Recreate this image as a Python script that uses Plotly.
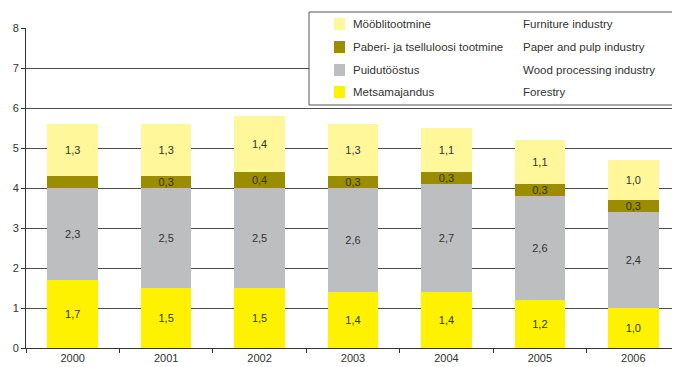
import plotly.graph_objects as go

years = ["2000", "2001", "2002", "2003", "2004", "2005", "2006"]

metsamajandus = [1.7, 1.5, 1.5, 1.4, 1.4, 1.2, 1.0]
puidutoostus = [2.3, 2.5, 2.5, 2.6, 2.7, 2.6, 2.4]
paber = [0.3, 0.3, 0.4, 0.3, 0.3, 0.3, 0.3]
moobel = [1.3, 1.3, 1.4, 1.3, 1.1, 1.1, 1.0]

names_et = ["Mööblitootmine", "Paberi- ja tselluloosi tootmine", "Puidutööstus", "Metsamajandus"]
names_en = ["Furniture industry", "Paper and pulp industry", "Wood processing industry", "Forestry"]
colors = ["#FFF799", "#9B8D00", "#BDBEC0", "#FFF200"]


def lbl(vals, skip=()):
    return ["" if i in skip else f"{v:.1f}".replace(".", ",") for i, v in enumerate(vals)]


series = [
    (metsamajandus, "#FFF200", lbl(metsamajandus)),
    (puidutoostus, "#BDBEC0", lbl(puidutoostus)),
    (paber, "#9B8D00", lbl(paber, skip=(0,))),
    (moobel, "#FFF799", lbl(moobel)),
]

fig = go.Figure()
for vals, col, txt in series:
    fig.add_trace(go.Bar(
        x=years, y=vals, marker=dict(color=col, line=dict(width=0)),
        text=txt, textposition="inside", insidetextanchor="middle",
        textfont=dict(color="#333333", size=11), showlegend=False,
    ))

# page has an 8px body margin, so work in page pixels and shift
OFF = 8
W, H = 680, 367
L, R, T, B = 26 - OFF, OFF, 28 - OFF, H - (348 - OFF)
pw, ph = W - L - R, H - T - B


def px(x):
    return (x - OFF - L) / pw


def py(y):
    return (H - B - (y - OFF)) / ph


# legend box drawn by hand: two columns, Estonian and English
shapes = [dict(type="rect", xref="paper", yref="paper",
               x0=px(309), x1=px(679), y0=py(105), y1=py(12),
               line=dict(color="#555555", width=1), fillcolor="white", layer="above")]
annotations = []
rows = [24, 47, 70, 92]
for i, yy in enumerate(rows):
    shapes.append(dict(type="rect", xref="paper", yref="paper",
                       x0=px(334), x1=px(345), y0=py(yy + 6), y1=py(yy - 6),
                       line=dict(width=0), fillcolor=colors[i], layer="above"))
    annotations.append(dict(xref="paper", yref="paper", x=px(351), y=py(yy),
                            text=names_et[i], showarrow=False, xanchor="left",
                            yanchor="middle", font=dict(size=11.5, color="#333333")))
    annotations.append(dict(xref="paper", yref="paper", x=px(521), y=py(yy),
                            text=names_en[i], showarrow=False, xanchor="left",
                            yanchor="middle", font=dict(size=11.5, color="#333333")))

fig.update_layout(
    barmode="stack", bargap=0.46,
    width=W, height=H,
    margin=dict(l=L, r=R, t=T, b=B),
    plot_bgcolor="white", paper_bgcolor="white",
    font=dict(family="Liberation Sans, Arial, sans-serif", size=11, color="#333333"),
    uniformtext=dict(minsize=11, mode="show"),
    shapes=shapes, annotations=annotations,
    xaxis=dict(type="category", tickson="boundaries", ticks="outside", ticklen=4,
               tickcolor="#333333", showline=True, linecolor="#333333", linewidth=1,
               showgrid=False, tickfont=dict(size=11), automargin=False),
    yaxis=dict(range=[0, 8], dtick=1, ticks="outside", ticklen=4, tickcolor="#333333",
               showline=True, linecolor="#333333", linewidth=1,
               showgrid=True, gridcolor="#4d4d4d", gridwidth=1, zeroline=False,
               tickfont=dict(size=11), automargin=False),
)

fig.write_html("out.html")
